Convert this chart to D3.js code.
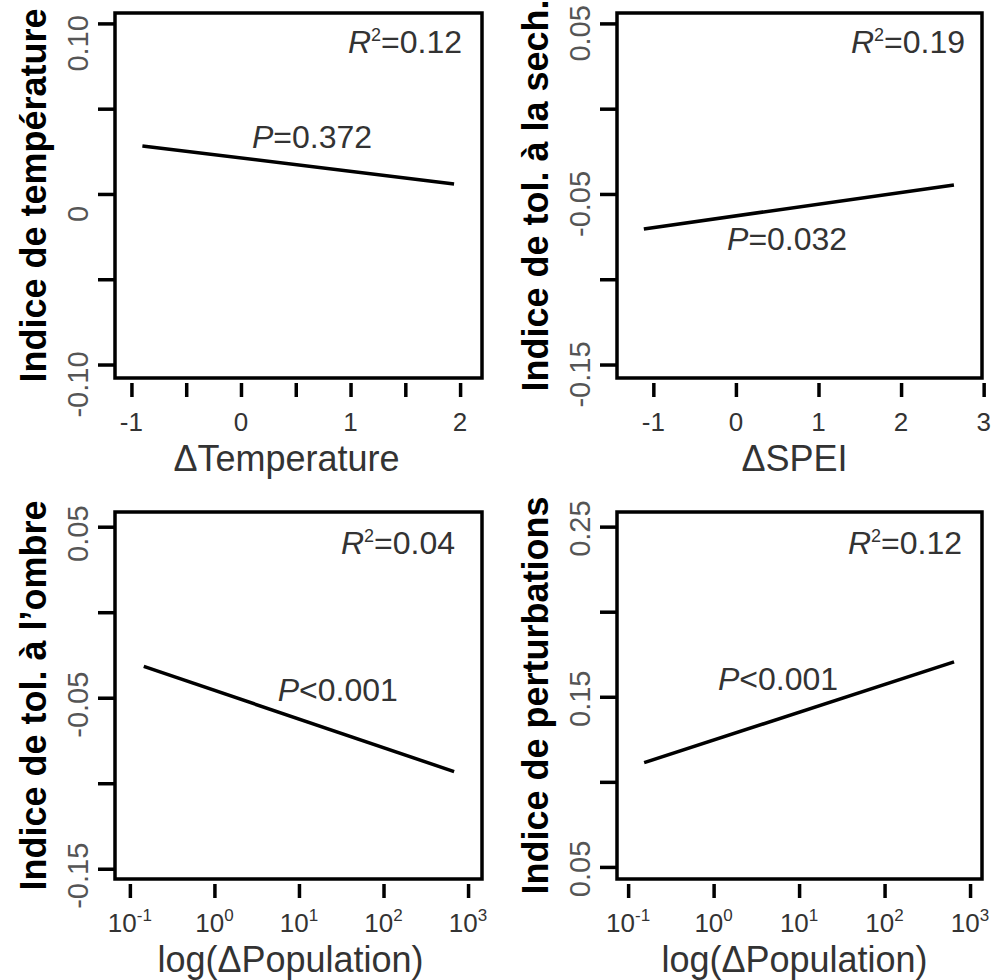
<!DOCTYPE html>
<html>
<head>
<meta charset="utf-8">
<script src="https://cdn.jsdelivr.net/npm/d3@7"></script>
<style>
  html, body { margin: 0; padding: 0; background: #fff; }
  svg { display: block; font-family: "Liberation Sans", Arial, sans-serif; }
  .frame { fill: none; stroke: #000; stroke-width: 3.5; }
  .tick line { stroke: #000; stroke-width: 3.5; }
  .fit { fill: none; stroke: #000; stroke-width: 3.5; }
  .ylab { font-weight: bold; font-size: 36px; fill: #000; }
  .xlab { font-size: 36px; fill: #333; }
  .ytick { font-size: 29px; fill: #555; }
  .xtick { font-size: 26px; fill: #333; }
  .stat { font-size: 32px; fill: #333; }
</style>
</head>
<body>
<svg id="chart" width="996" height="980"></svg>
<script>
(function () {
  "use strict";

  // titres des axes
  const yTitles = ["Indice de température", "Indice de tol. à la sech.",
                   "Indice de tol. à l\u2019ombre", "Indice de perturbations"];
  const xTitles = ["\u0394Temperature", "\u0394SPEI",
                   "log(\u0394Population)", "log(\u0394Population)"];

  // domaines des axes
  const xDomains = [[-1.15, 2.2], [-1.44, 2.98], [0.0667, 1462], [0.0741, 1380]];
  const yDomains = [[-0.1079, 0.1061], [-0.1579, 0.0561], [-0.156, 0.0586], [0.0429, 0.2586]];
  const xLog     = [false, false, true, true];

  // graduations
  const xTicks      = [[-1, -0.5, 0, 0.5, 1, 1.5, 2], [-1, 0, 1, 2, 3],
                       [0.1, 1, 10, 100, 1000], [0.1, 1, 10, 100, 1000]];
  const xTickLabels = [["-1", "", "0", "", "1", "", "2"], ["-1", "0", "1", "2", "3"],
                       ["-1", "0", "1", "2", "3"], ["-1", "0", "1", "2", "3"]];
  const yTicks      = [[-0.10, -0.05, 0, 0.05, 0.10], [-0.15, -0.10, -0.05, 0, 0.05],
                       [-0.15, -0.10, -0.05, 0, 0.05], [0.05, 0.10, 0.15, 0.20, 0.25]];
  const yTickLabels = [["-0.10", "", "0", "", "0.10"], ["-0.15", "", "-0.05", "", "0.05"],
                       ["-0.15", "", "-0.05", "", "0.05"], ["0.05", "", "0.15", "", "0.25"]];

  // droites de régression (extrémités)
  const fitX = [[-0.90, 1.945], [-1.115, 2.64], [0.146, 684], [0.154, 650]];
  const fitY = [[0.0281, 0.0059], [-0.0705, -0.0447], [-0.0317, -0.0932], [0.1113, 0.1705]];

  // statistiques
  const r2Values = ["0.12", "0.19", "0.04", "0.12"];
  const pValues  = ["=0.372", "=0.032", "<0.001", "<0.001"];

  // mise en page
  const frames = [
    { x: 115, y: 13,  w: 367, h: 365 },
    { x: 617, y: 13,  w: 365, h: 365 },
    { x: 115, y: 512, w: 367, h: 367 },
    { x: 617, y: 512, w: 365, h: 367 }
  ];
  const yLabelShift = [20, 10, 7, 2];          // décalage vertical des étiquettes y
  const r2Inset     = [20, 17, 27, 20];        // distance au bord droit
  const xTitleShift = [-12, -5, -8, -5];       // décalage horizontal des titres x
  const pPos        = [[0.537, 0.370], [0.466, 0.649], [0.607, 0.514], [0.441, 0.484]];

  const svg = d3.select("#chart");

  frames.forEach((f, i) => {
    const g = svg.append("g").attr("transform", `translate(${f.x},${f.y})`);

    const x = (xLog[i] ? d3.scaleLog() : d3.scaleLinear())
      .domain(xDomains[i]).range([0, f.w]);
    const y = d3.scaleLinear().domain(yDomains[i]).range([f.h, 0]);

    // axe y : graduations seules
    const ya = g.append("g")
      .call(d3.axisLeft(y).tickValues(yTicks[i]).tickSize(17).tickFormat(""));
    ya.select(".domain").remove();

    g.selectAll(".ytick")
      .data(yTicks[i].map((v, k) => ({ v, t: yTickLabels[i][k] })).filter(d => d.t))
      .join("text")
      .attr("class", "ytick")
      .attr("text-anchor", "middle")
      .attr("transform", d => `translate(-27,${y(d.v) + yLabelShift[i]}) rotate(-90)`)
      .text(d => d.t);

    // axe x
    const xa = g.append("g")
      .attr("transform", `translate(0,${f.h + 5})`)
      .call(d3.axisBottom(x).tickValues(xTicks[i]).tickSize(14).tickFormat(""));
    xa.select(".domain").remove();

    const xl = g.selectAll(".xtick")
      .data(xTicks[i].map((v, k) => ({ v, t: xTickLabels[i][k] })).filter(d => d.t))
      .join("text")
      .attr("class", "xtick")
      .attr("text-anchor", "middle")
      .attr("x", d => x(d.v))
      .attr("y", f.h + 53);
    if (xLog[i]) {
      xl.text("10");
      xl.append("tspan").attr("dy", -11).attr("font-size", 17).text(d => d.t);
    } else {
      xl.text(d => d.t);
    }

    // cadre
    g.append("rect").attr("class", "frame")
      .attr("x", 0).attr("y", 0).attr("width", f.w).attr("height", f.h);

    // droite ajustée
    const pts = fitX[i].map((v, k) => [v, fitY[i][k]]);
    g.append("path").attr("class", "fit")
      .attr("d", d3.line().x(d => x(d[0])).y(d => y(d[1]))(pts));

    // R²
    const r2 = g.append("text").attr("class", "stat")
      .attr("text-anchor", "end")
      .attr("x", f.w - r2Inset[i]).attr("y", i < 2 ? 40 : 42);
    r2.append("tspan").attr("font-style", "italic").text("R");
    r2.append("tspan").attr("font-size", 18).attr("dy", -12).text("2");
    r2.append("tspan").attr("dy", 12).text("=" + r2Values[i]);

    // P
    const p = g.append("text").attr("class", "stat")
      .attr("text-anchor", "middle")
      .attr("x", f.w * pPos[i][0]).attr("y", f.h * pPos[i][1]);
    p.append("tspan").attr("font-style", "italic").text("P");
    p.append("tspan").text(pValues[i]);

    // titres
    g.append("text").attr("class", "xlab")
      .attr("text-anchor", "middle")
      .attr("x", f.w / 2 + xTitleShift[i]).attr("y", f.h + 93)
      .text(xTitles[i]);

    g.append("text").attr("class", "ylab")
      .attr("text-anchor", "middle")
      .attr("transform", `translate(-69,${f.h / 2}) rotate(-90)`)
      .text(yTitles[i]);
  });
})();
</script>
</body>
</html>
